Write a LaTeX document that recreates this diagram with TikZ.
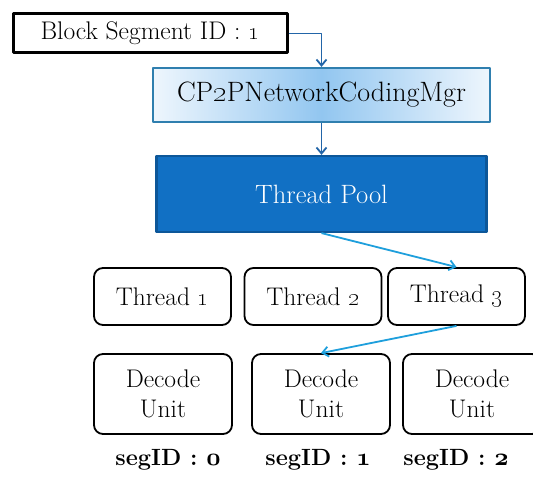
\documentclass[tikz,border=0pt]{standalone}
\usepackage{tikz}
\usetikzlibrary{arrows.meta}

\definecolor{poolblue}{HTML}{1170C4}
\definecolor{pooledge}{HTML}{0D5799}
\definecolor{mgredge}{HTML}{2F7FAF}
\definecolor{mgrmid}{HTML}{92C6F0}
\definecolor{mgrside}{HTML}{EEF6FD}
\definecolor{linkdark}{HTML}{2265A8}
\definecolor{linkcyan}{HTML}{1E9FDC}

\begin{document}
\begin{tikzpicture}[x=1pt, y=-1pt,
                    line join=round,
                    every node/.style={font=\fontsize{25.5}{30}\selectfont, inner sep=0pt},
                    idbox/.style={draw=black, line width=3pt, minimum width=274pt, minimum height=39pt},
                    mgrbox/.style={draw=mgredge, line width=2.2pt, left color=mgrside, right color=mgrside,
                                   middle color=mgrmid, minimum width=337pt, minimum height=54pt,
                                   font=\fontsize{28}{32}\selectfont},
                    poolbox/.style={draw=pooledge, line width=2.2pt, fill=poolblue, text=white,
                                    minimum width=330pt, minimum height=76pt,
                                    font=\fontsize{26.5}{30}\selectfont},
                    thread/.style={draw=black, line width=1.8pt, rounded corners=9pt,
                                   minimum width=137pt, minimum height=57pt},
                    unit/.style={thread, align=center, minimum width=138pt, minimum height=80pt},
                    seglabel/.style={font=\fontsize{23.5}{28}\selectfont\bfseries},
                    link/.style={line width=1.8pt, -{Straight Barb[length=6pt, width=10pt]}}]
  \def\one{\oldstylenums{1}}
  \def\two{\oldstylenums{2}}
  \def\three{\oldstylenums{3}}
  \def\segnum#1{{\usefont{OML}{cmm}{b}{it}#1}}

  \useasboundingbox (0,0) rectangle (533,478);
  \clip (0,0) rectangle (533,478);

  % top of the chain
  \node[idbox] (blk) at (150,33.5) {Block Segment ID : \one};
  \node[mgrbox] (mgr) at (321.5,95) {CP\two PNetworkCodingMgr};
  \node[poolbox] (pool) at (321.5,194) {Thread Pool};

  % threads
  \node[thread] (t1) at (162.5,296.5) {Thread \one};
  \node[thread] (t2) at (313,296.5) {Thread \two};
  \node[thread] (t3) at (456.5,296.5) {Thread \three};

  % decode units
  \node[unit] (du1) at (163,394) {Decode\\Unit};
  \node[unit] (du2) at (321,394) {Decode\\Unit};
  \node[unit] (du3) at (472,394) {Decode\\Unit};

  \node[seglabel] (seg0) at (168,460) {segID : \segnum{0}};
  \node[seglabel] (seg1) at (318,460) {segID : \segnum{1}};
  \node[seglabel] (seg2) at (456,460) {segID : \segnum{2}};

  % arrows
  \draw[link, linkdark] (blk.east) -| (mgr.north);
  \draw[link, linkdark] (mgr.south) -- (pool.north);
  \draw[link, linkcyan] (pool.south) -- (t3.north);
  \draw[link, linkcyan] (t3.south) -- (du2.north);
\end{tikzpicture}
\end{document}
